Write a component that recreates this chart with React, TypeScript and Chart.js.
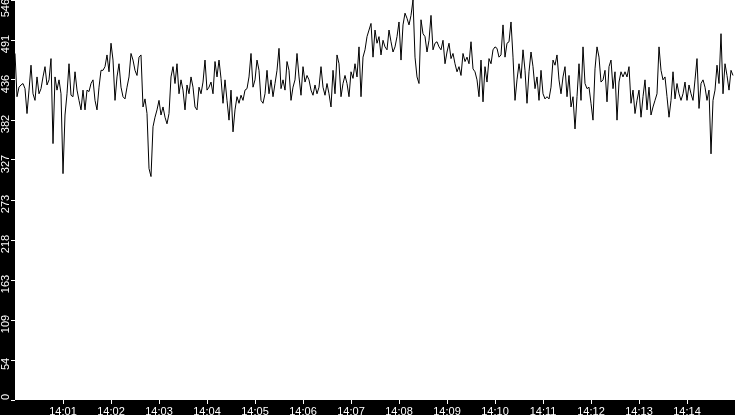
import { useEffect, useRef } from "react";
import { Chart, registerables } from "chart.js";

Chart.register(...registerables);

// one sample every 2.5 s, starting 14:00:00
const sampleStep = 2.5;
const values = [
  473, 414, 427, 430, 432, 425, 391, 423, 457, 418, 409, 441, 418, 425, 441, 455, 430, 437, 466, 350,
  441, 423, 437, 418, 309, 389, 418, 459, 416, 414, 448, 423, 409, 396, 423, 396, 423, 421, 432, 437,
  409, 396, 427, 450, 450, 455, 471, 448, 487, 464, 409, 441, 459, 427, 414, 411, 427, 441, 473, 464,
  450, 443, 468, 471, 400, 411, 391, 316, 305, 373, 386, 396, 409, 389, 400, 386, 377, 391, 441, 455,
  432, 459, 418, 437, 423, 396, 430, 418, 441, 427, 400, 396, 427, 418, 434, 464, 423, 427, 434, 418,
  462, 441, 464, 439, 405, 437, 409, 382, 423, 366, 396, 414, 405, 416, 409, 423, 425, 441, 473, 427,
  437, 464, 450, 409, 405, 418, 450, 418, 437, 414, 432, 450, 480, 425, 437, 423, 462, 450, 409, 427,
  437, 473, 441, 416, 455, 434, 443, 437, 423, 416, 430, 418, 427, 455, 427, 416, 432, 418, 400, 450,
  418, 471, 459, 414, 432, 443, 432, 414, 448, 439, 459, 441, 482, 414, 468, 478, 496, 505, 514, 468,
  505, 487, 496, 471, 491, 482, 478, 505, 489, 475, 482, 496, 516, 464, 512, 528, 521, 512, 525, 546,
  468, 441, 432, 519, 500, 496, 475, 491, 525, 478, 487, 489, 482, 478, 491, 459, 475, 487, 466, 473,
  459, 448, 455, 443, 473, 462, 468, 459, 489, 452, 448, 437, 414, 464, 407, 455, 434, 466, 459, 478,
  482, 480, 468, 471, 512, 468, 487, 489, 516, 468, 409, 437, 459, 439, 478, 450, 405, 448, 475, 455,
  425, 441, 409, 450, 418, 411, 414, 411, 427, 464, 457, 471, 437, 418, 441, 455, 414, 443, 400, 414,
  370, 414, 459, 409, 482, 432, 425, 427, 405, 382, 452, 482, 468, 434, 437, 450, 407, 455, 464, 425,
  448, 382, 434, 448, 441, 448, 441, 455, 405, 423, 391, 409, 423, 386, 414, 437, 396, 427, 389, 400,
  409, 418, 482, 450, 437, 441, 414, 386, 409, 448, 411, 432, 418, 409, 418, 434, 409, 430, 418, 409,
  437, 466, 398, 432, 437, 427, 409, 423, 336, 409, 423, 457, 432, 500, 418, 459, 443, 423, 450, 443,
];

const xTickSeconds = [60, 120, 180, 240, 300, 360, 420, 480, 540, 600, 660, 720, 780, 840];
const xTickLabels = ["14:01", "14:02", "14:03", "14:04", "14:05", "14:06", "14:07", "14:08", "14:09", "14:10", "14:11", "14:12", "14:13", "14:14"];
const yTickValues = [0, 54.6, 109.2, 163.8, 218.4, 273, 327.6, 382.2, 436.8, 491.4, 546];
const yTickLabels = ["0", "54", "109", "163", "218", "273", "327", "382", "436", "491", "546"];

const FONT = "11px 'Liberation Sans', Arial, sans-serif";

const backdrop = {
  id: "backdrop",
  beforeDraw(chart: any) {
    const { ctx, chartArea, width, height } = chart;
    ctx.save();
    ctx.fillStyle = "#000";
    ctx.fillRect(0, 0, width, height);
    ctx.fillStyle = "#fff";
    ctx.fillRect(chartArea.left, chartArea.top, chartArea.right - chartArea.left, chartArea.bottom - chartArea.top);
    ctx.restore();
  },
};

// rotated y labels, reading upwards, kept inside the strip
const yLabels = {
  id: "yLabels",
  afterDraw(chart: any) {
    const { ctx, chartArea } = chart;
    const scale = chart.scales.y;
    ctx.save();
    ctx.font = FONT;
    ctx.fillStyle = "#fff";
    ctx.textAlign = "center";
    ctx.textBaseline = "alphabetic";
    yTickValues.forEach((v, i) => {
      const text = yTickLabels[i];
      const w = ctx.measureText(text).width;
      let py = scale.getPixelForValue(v) + 4;
      if (py + w / 2 > chartArea.bottom) py = chartArea.bottom - w / 2;
      if (py - w / 2 < -1) py = w / 2 - 1;
      ctx.save();
      ctx.translate(9, py);
      ctx.rotate(-Math.PI / 2);
      ctx.fillText(text, 0, 0);
      ctx.restore();
    });
    ctx.restore();
  },
};

function TraceChart() {
  const ref = useRef<HTMLCanvasElement>(null);
  useEffect(() => {
    const chart = new Chart(ref.current!, {
      type: "line",
      data: {
        datasets: [
          {
            data: values.map((v, i) => ({ x: i * sampleStep, y: v })),
            borderColor: "#000",
            borderWidth: 1,
            pointRadius: 0,
            tension: 0,
            fill: false,
          },
        ],
      },
      options: {
        animation: false,
        responsive: true,
        maintainAspectRatio: false,
        devicePixelRatio: 1,
        layout: { padding: 0 },
        plugins: { legend: { display: false }, tooltip: { enabled: false } },
        scales: {
          x: {
            type: "linear",
            min: 0,
            max: 900,
            afterBuildTicks: (s: any) => {
              s.ticks = xTickSeconds.map((value) => ({ value }));
            },
            afterFit: (s: any) => {
              s.height = 15;
              s.paddingLeft = 0;
              s.paddingRight = 0;
            },
            grid: { drawOnChartArea: false, drawTicks: true, tickLength: 4, color: "#fff" },
            border: { display: false },
            ticks: {
              color: "#fff",
              font: { family: "'Liberation Sans', Arial, sans-serif", size: 11 },
              padding: 1,
              maxRotation: 0,
              autoSkip: false,
              callback: (_v: any, i: number) => xTickLabels[i],
            },
          },
          y: {
            type: "linear",
            min: 0,
            max: 546,
            afterBuildTicks: (s: any) => {
              s.ticks = yTickValues.map((value) => ({ value }));
            },
            afterFit: (s: any) => {
              s.width = 15;
              s.paddingTop = 0;
              s.paddingBottom = 0;
            },
            grid: { drawOnChartArea: false, drawTicks: true, tickLength: 4, color: "#fff" },
            border: { display: false },
            ticks: { display: false },
          },
        },
      },
      plugins: [backdrop, yLabels],
    });
    return () => chart.destroy();
  }, []);
  return <canvas ref={ref} />;
}

export default function App() {
  return (
    <div style={{ position: "fixed", left: 0, top: 0, width: 735, height: 415, background: "#000" }}>
      <TraceChart />
    </div>
  );
}
